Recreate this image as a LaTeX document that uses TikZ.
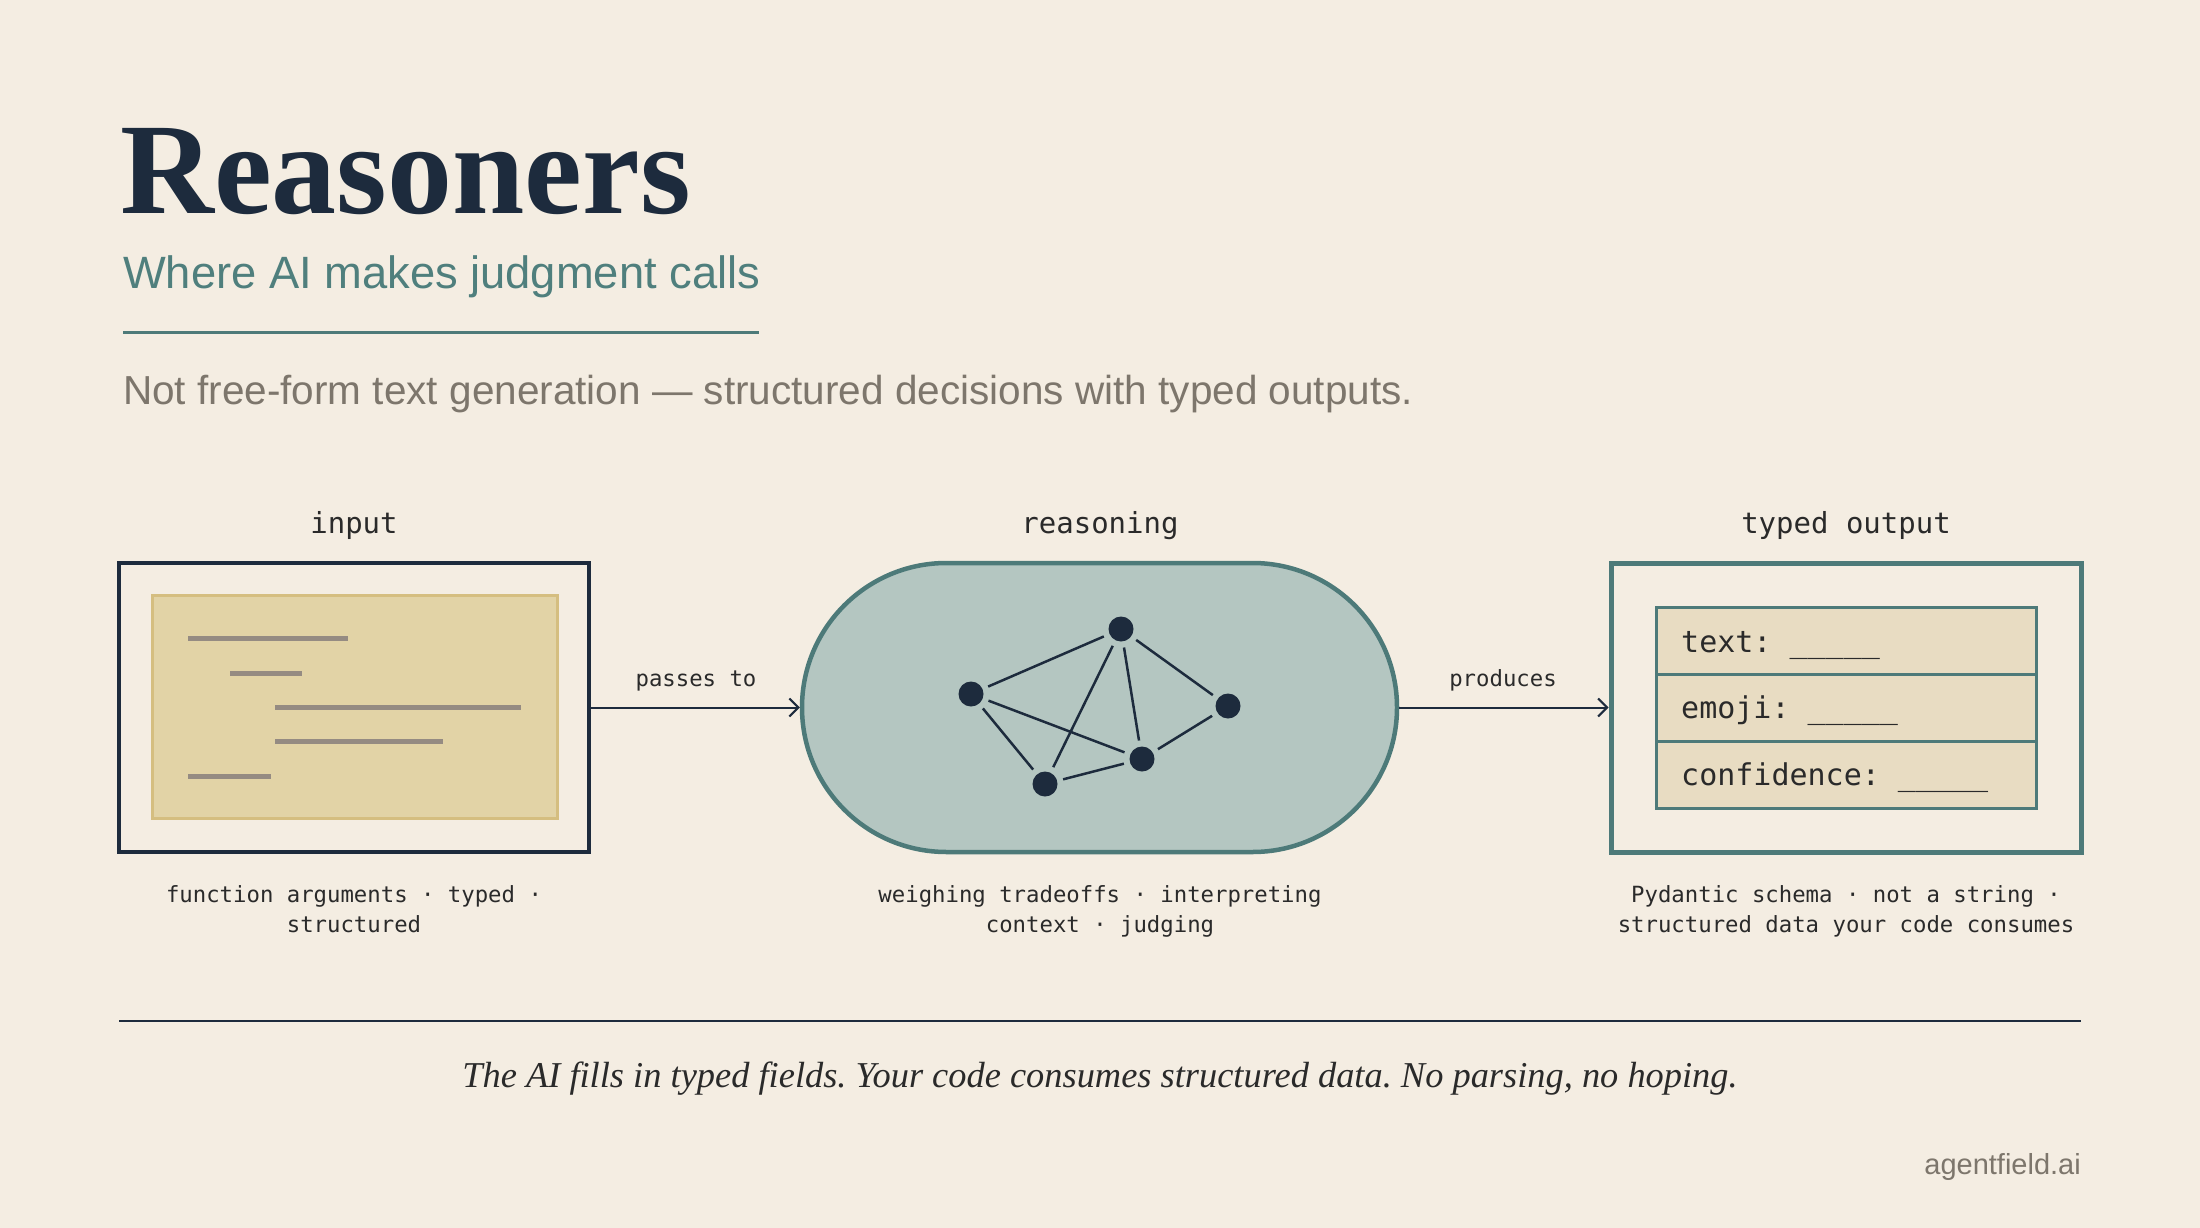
\documentclass[tikz,border=0pt]{standalone}
\usepackage{fontspec}
\setmainfont{Liberation Serif}
\newfontfamily\sansf{Liberation Sans}
\newfontfamily\monof{DejaVu Sans Mono}
\usetikzlibrary{arrows.meta,shapes.misc}
\definecolor{bg}{HTML}{F4EDE2}
\definecolor{navy}{HTML}{1D2B3D}
\definecolor{tealc}{HTML}{4D7A79}
\definecolor{tealtxt}{HTML}{4F7F7D}
\definecolor{graytxt}{HTML}{7D766C}
\definecolor{pillfill}{HTML}{B4C6C1}
\definecolor{yfill}{HTML}{E2D3A6}
\definecolor{ybord}{HTML}{D5BE80}
\definecolor{barc}{HTML}{958B82}
\definecolor{tfill}{HTML}{E8DCC2}
\definecolor{ink}{HTML}{2A2A2A}
\frenchspacing
\begin{document}
\begin{tikzpicture}[x=1pt,y=-1pt,
  lbl/.style={font=\monof\fontsize{29}{29}\selectfont, text=ink, inner sep=0, anchor=base},
  captext/.style={font=\monof\fontsize{22.3}{22.3}\selectfont, text=ink, inner sep=0, anchor=base},
  fld/.style={font=\monof\fontsize{30}{30}\selectfont, text=ink, inner sep=0, anchor=base west},
  bar/.style={draw=barc, line width=5},
  arr/.style={draw=navy, line width=2, -{Straight Barb[length=9pt,width=18pt,line width=2pt]}},
  gnode/.style={circle, fill=navy, minimum size=25, inner sep=0},
  gedge/.style={draw=navy, line width=2.5, shorten <=6pt, shorten >=6pt},
  row/.style={draw=tealc, fill=tfill, line width=3, minimum width=380, minimum height=67, inner sep=0}
]
\fill[bg] (0,0) rectangle (2200,1228);
\useasboundingbox (0,0) rectangle (2200,1228);

% header
\node[anchor=base west, inner sep=0, text=navy, font=\fontsize{130}{130}\selectfont\bfseries] (title) at (120,213) {Reasoners};
\node[anchor=base west, inner sep=0, text=tealtxt, font=\sansf\fontsize{45.3}{45.3}\selectfont] (sub) at (123,288) {Where AI makes judgment calls};
\draw[tealc, line width=3] (123,332) -- (759,332);
\node[anchor=base west, inner sep=0, text=graytxt, font=\sansf\fontsize{40.5}{40.5}\selectfont] (tag) at (123,404) {Not free-form text generation — structured decisions with typed outputs.};

% labels
\node[lbl] (linput) at (354,533) {input};
\node[lbl] (lreason) at (1100,533) {reasoning};
\node[lbl] (lout) at (1846,533) {typed output};

% input box
\node[draw=navy, line width=4.5, minimum width=470, minimum height=289, inner sep=0] (inbox) at (354,707.5) {};
\node[draw=ybord, fill=yfill, line width=3, minimum width=405, minimum height=223, inner sep=0] (doc) at (354.5,706.5) {};
\draw[bar] (188,638) -- (348,638);
\draw[bar] (230,673) -- (302,673);
\draw[bar] (275,707) -- (521,707);
\draw[bar] (275,741) -- (443,741);
\draw[bar] (188,776) -- (271,776);

% pill
\node[rounded rectangle, draw=tealc, fill=pillfill, line width=4.5, minimum width=595, minimum height=289, inner sep=0] (pill) at (1099.5,707.5) {};
\node[gnode] (ga) at (971,694) {};
\node[gnode] (gb) at (1121,629) {};
\node[gnode] (gc) at (1228,706) {};
\node[gnode] (gd) at (1142,759) {};
\node[gnode] (ge) at (1045,784) {};
\draw[gedge] (ga) -- (gb);
\draw[gedge] (ga) -- (gd);
\draw[gedge] (ga) -- (ge);
\draw[gedge] (gb) -- (ge);
\draw[gedge] (gb) -- (gd);
\draw[gedge] (gb) -- (gc);
\draw[gedge] (gc) -- (gd);
\draw[gedge] (ge) -- (gd);

% output box
\node[draw=tealc, line width=5, minimum width=470, minimum height=289, inner sep=0] (outbox) at (1846,707.5) {};
\node[row] (r1) at (1846,640.5) {};
\node[row] (r2) at (1846,707.5) {};
\node[row] (r3) at (1846,774.5) {};
\node[fld] (f1) at (1681,652) {text: \_\_\_\_\_};
\node[fld] (f2) at (1681,718) {emoji: \_\_\_\_\_};
\node[fld] (f3) at (1681,785) {confidence: \_\_\_\_\_};

% arrows
\draw[arr] (inbox.east) -- (pill.west);
\draw[arr] (pill.east) -- (outbox.west);
\node[captext] (lpass) at (696,686) {passes to};
\node[captext] (lprod) at (1503,686) {produces};

% captions
\node[captext] (c1a) at (354,902) {function arguments · typed ·};
\node[captext] (c1b) at (354,932) {structured};
\node[captext] (c2a) at (1100,902) {weighing tradeoffs · interpreting};
\node[captext] (c2b) at (1100,932) {context · judging};
\node[captext] (c3a) at (1846,902) {Pydantic schema · not a string ·};
\node[captext] (c3b) at (1846,932) {structured data your code consumes};

% footer
\draw[navy, line width=2.5] (119,1021) -- (2081,1021);
\node[anchor=base, inner sep=0, text=ink, font=\itshape\fontsize{36.4}{36.4}\selectfont] (quote) at (1100,1087) {The AI fills in typed fields. Your code consumes structured data. No parsing, no hoping.};
\node[anchor=base east, inner sep=0, text=graytxt, font=\sansf\fontsize{29}{29}\selectfont] (brand) at (2081,1174) {agentfield.ai};
\end{tikzpicture}
\end{document}
